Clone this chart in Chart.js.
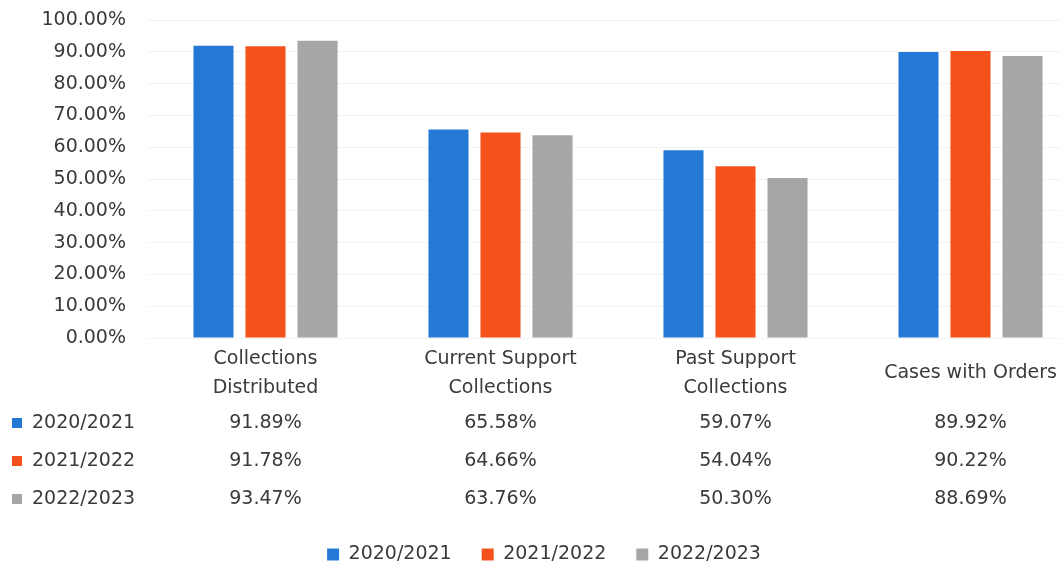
<!DOCTYPE html>
<html>
<head>
<meta charset="utf-8">
<script src="https://cdn.jsdelivr.net/npm/chart.js@4/dist/chart.umd.min.js"></script>
<style>
  html, body { margin: 0; padding: 0; background: #fff; overflow: hidden; }
  #wrap { width: 1088px; height: 567px; position: relative; }
</style>
</head>
<body>
<div id="wrap"><canvas id="c"></canvas></div>
<script>
// Categories and yearly rates (percent)
const categories = [
  ['Collections', 'Distributed'],
  ['Current Support', 'Collections'],
  ['Past Support', 'Collections'],
  'Cases with Orders'
];
const seriesNames = ['2020/2021', '2021/2022', '2022/2023'];
const values2020 = [91.89, 65.58, 59.07, 89.92];
const values2021 = [91.78, 64.66, 54.04, 90.22];
const values2022 = [93.47, 63.76, 50.30, 88.69];
const yTickValues = [0, 10, 20, 30, 40, 50, 60, 70, 80, 90, 100];

const seriesColors = ['#2479d6', '#f4511c', '#a6a6a6'];
const seriesValues = [values2020, values2021, values2022];
const FONT = 'DejaVu Sans';
const TEXT = '#3a3a3a';

const fmt = v => v.toFixed(2) + '%';

// Data table drawn beneath the category labels
const dataTable = {
  id: 'dataTable',
  afterDraw(chart) {
    const ctx = chart.ctx;
    const x = chart.scales.x;
    const base = chart.chartArea.bottom;
    const rowOffsets = [85, 123, 161];
    ctx.save();
    ctx.font = '19px "' + FONT + '"';
    ctx.fillStyle = TEXT;
    ctx.textBaseline = 'middle';
    seriesNames.forEach((name, r) => {
      const y = base + rowOffsets[r];
      ctx.fillStyle = seriesColors[r];
      ctx.fillRect(12, y - 5, 10, 10);
      ctx.fillStyle = TEXT;
      ctx.textAlign = 'left';
      ctx.fillText(name, 32, y);
      ctx.textAlign = 'center';
      seriesValues[r].forEach((v, i) => {
        ctx.fillText(fmt(v), x.getPixelForValue(i), y);
      });
    });
    ctx.restore();
  }
};

new Chart(document.getElementById('c'), {
  type: 'bar',
  data: {
    labels: categories,
    datasets: seriesNames.map((name, i) => ({
      label: name,
      data: seriesValues[i],
      backgroundColor: seriesColors[i],
      borderWidth: 0,
      categoryPercentage: 0.664,
      barPercentage: 0.77
    }))
  },
  options: {
    responsive: true,
    maintainAspectRatio: false,
    animation: false,
    layout: { padding: { top: 20, right: 0, bottom: -7, left: 0 } },
    plugins: {
      legend: {
        position: 'bottom',
        labels: {
          font: { family: FONT, size: 19 },
          color: TEXT,
          boxWidth: 12,
          boxHeight: 12,
          padding: 30
        }
      },
      tooltip: { enabled: false }
    },
    scales: {
      x: {
        grid: { display: false },
        border: { display: false },
        ticks: {
          font: { family: FONT, size: 19, lineHeight: 1.53 },
          color: TEXT,
          padding: 13,
          maxRotation: 0,
          autoSkip: false,
          crossAlign: 'center'
        },
        afterFit(scale) { scale.height = 177; }
      },
      y: {
        min: 0,
        max: 100,
        afterBuildTicks(scale) { scale.ticks = yTickValues.map(v => ({ value: v })); },
        grid: { color: '#f3f3f3', drawTicks: true, tickLength: 22, tickColor: 'rgba(0,0,0,0)' },
        border: { display: false },
        ticks: {
          font: { family: FONT, size: 19 },
          color: TEXT,
          padding: 0,
          callback: v => fmt(v)
        },
        afterFit(scale) { scale.width = 148; }
      }
    }
  },
  plugins: [dataTable]
});
</script>
</body>
</html>
